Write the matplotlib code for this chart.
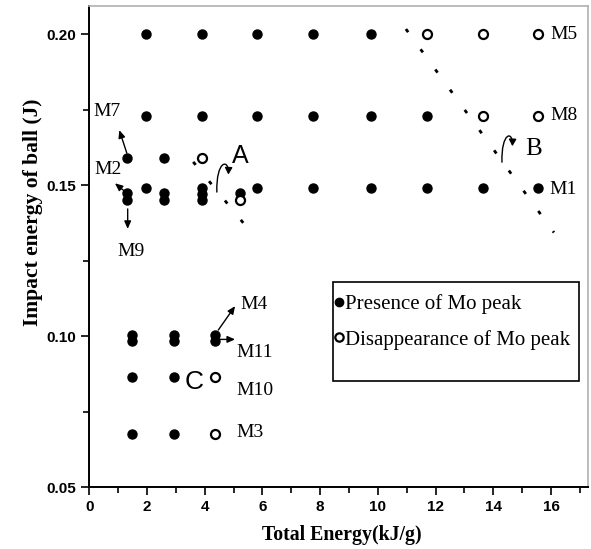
import numpy as np
import matplotlib.pyplot as plt
from matplotlib.patches import Rectangle, FancyArrowPatch
from matplotlib.path import Path
from matplotlib.ticker import MultipleLocator

# samples where the Mo peak is still present (filled dots)
present_x = [1.96, 3.9, 5.81, 7.75, 9.76,
             1.96, 3.9, 5.81, 7.75, 9.76, 11.7,
             1.3, 2.59,
             1.96, 5.81, 7.75, 9.76, 11.7, 13.64, 15.55,
             1.3, 1.3, 2.59, 2.59, 3.9, 3.9, 3.9, 5.22,
             1.47, 2.95, 4.36, 1.47, 2.95, 4.36,
             1.47, 2.95,
             1.47, 2.95]
present_y = [0.200, 0.200, 0.200, 0.200, 0.200,
             0.173, 0.173, 0.173, 0.173, 0.173, 0.173,
             0.159, 0.159,
             0.149, 0.149, 0.149, 0.149, 0.149, 0.149, 0.149,
             0.1475, 0.1452, 0.1475, 0.1452, 0.1492, 0.1472, 0.1452, 0.1475,
             0.1003, 0.1003, 0.1003, 0.0983, 0.0983, 0.0983,
             0.0865, 0.0865,
             0.0675, 0.0675]

# samples where the Mo peak disappeared (open circles)
absent_x = [11.7, 13.64, 15.55, 13.64, 15.55, 3.9, 5.22, 4.36, 4.36]
absent_y = [0.200, 0.200, 0.200, 0.173, 0.173, 0.159, 0.1452, 0.0865, 0.0675]

legend_labels = ['Presence of Mo peak', 'Disappearance of Mo peak']

serif = 'Liberation Serif'
sans = 'Liberation Sans'

fig = plt.figure(figsize=(5.91, 5.49), dpi=100)
ax = fig.add_axes([0.1511, 0.1129, 0.8438, 0.876])

ax.plot(present_x, present_y, 'o', color='black', markersize=6.5, linestyle='none',
        label=legend_labels[0], zorder=3)
ax.plot(absent_x, absent_y, 'o', markerfacecolor='white', markeredgecolor='black',
        markeredgewidth=1.6, markersize=6.5, linestyle='none',
        label=legend_labels[1], zorder=3)

# boundary lines A and B
ax.plot([3.6, 5.42], [0.1577, 0.1365], color='black', linewidth=2,
        dashes=[1.4, 7.6], zorder=2)
ax.plot([10.97, 16.1], [0.2017, 0.1343], color='black', linewidth=2,
        dashes=[1.4, 7.6], zorder=2)


def hook_arrow(p0, c1, c2, p1):
    """Small curved arrow (bezier hook) like the hand-drawn ones."""
    path = Path([p0, c1, c2, p1], [Path.MOVETO, Path.CURVE4, Path.CURVE4, Path.CURVE4])
    ax.add_patch(FancyArrowPatch(path=path, arrowstyle='-|>,head_length=4,head_width=2.2',
                                 color='black', linewidth=1, zorder=4))


hook_arrow((4.42, 0.1477), (4.39, 0.1583), (4.84, 0.1589), (4.82, 0.1535))
hook_arrow((14.3, 0.1576), (14.27, 0.1675), (14.68, 0.1682), (14.66, 0.1629))

ax.text(5.22, 0.1597, 'A', fontsize=18, family=sans, ha='center', va='center')
ax.text(15.41, 0.1618, 'B', fontsize=18, family=serif, ha='center', va='center')
ax.text(3.63, 0.0848, 'C', fontsize=19, family=sans, ha='center', va='center')

# sample labels
lab = dict(fontsize=14, family=serif, va='center')
ax.text(15.97, 0.200, 'M5', ha='left', **lab)
ax.text(15.97, 0.173, 'M8', ha='left', **lab)
ax.text(15.93, 0.1485, 'M1', ha='left', **lab)
ax.text(0.61, 0.1745, 'M7', ha='center', **lab)
ax.text(0.65, 0.1552, 'M2', ha='center', **lab)
ax.text(1.45, 0.1281, 'M9', ha='center', **lab)
ax.text(5.22, 0.1103, 'M4', ha='left', **lab)
ax.text(5.11, 0.0947, 'M11', ha='left', **lab)
ax.text(5.11, 0.0821, 'M10', ha='left', **lab)
ax.text(5.11, 0.0679, 'M3', ha='left', **lab)

st = dict(arrowstyle='-|>,head_length=0.45,head_width=0.2', color='black', linewidth=1,
          shrinkA=0, shrinkB=0)
ax.annotate('', xy=(1.04, 0.1682), xytext=(1.30, 0.1606), arrowprops=st)
ax.annotate('', xy=(0.89, 0.1506), xytext=(1.18, 0.1483), arrowprops=st)
ax.annotate('', xy=(1.33, 0.1355), xytext=(1.33, 0.1421), arrowprops=st)
ax.annotate('', xy=(5.05, 0.1099), xytext=(4.47, 0.1020), arrowprops=st)
ax.annotate('', xy=(5.05, 0.0989), xytext=(4.53, 0.0989), arrowprops=st)

ax.set_xlim(0, 17.28)
ax.set_ylim(0.05, 0.2093)
ax.xaxis.set_major_locator(MultipleLocator(2))
ax.xaxis.set_minor_locator(MultipleLocator(1))
ax.yaxis.set_minor_locator(MultipleLocator(0.025))
ax.set_yticks([0.05, 0.10, 0.15, 0.20])
ax.set_yticklabels(['0.05', '0.10', '0.15', '0.20'])

ax.tick_params(which='major', direction='out', length=6, width=1.2, top=False, right=False)
ax.tick_params(which='minor', direction='out', length=4, width=1.2, top=False, right=False)
for t in ax.get_xticklabels() + ax.get_yticklabels():
    t.set_family(sans)
    t.set_fontweight('bold')
    t.set_fontsize(11)

for s in ['left', 'bottom']:
    ax.spines[s].set_linewidth(1.4)
for s in ['top', 'right']:
    ax.spines[s].set_color('#b0b0b0')
    ax.spines[s].set_linewidth(1.2)

ax.set_xlabel('Total Energy(kJ/g)', family=serif, fontweight='bold', fontsize=14.3)
ax.xaxis.set_label_coords(0.507, -0.078)
ax.set_ylabel('Impact energy of ball (J)', family=serif, fontweight='bold', fontsize=15.5)
ax.yaxis.set_label_coords(-0.093, 0.571)

# legend with an oversized frame as in the original figure
leg = ax.legend(loc='upper left', bbox_to_anchor=(0.476, 0.418), frameon=False,
                prop={'family': serif, 'size': 15}, handlelength=0.4,
                handletextpad=0.1, labelspacing=0.74, borderaxespad=0)
for h in leg.legend_handles:
    h.set_markersize(6)
ax.add_patch(Rectangle((0.488, 0.2204), 0.494, 0.2056, transform=ax.transAxes,
                       fill=False, edgecolor='black', linewidth=1.2, zorder=4))

fig.savefig('out.png', dpi=100)
